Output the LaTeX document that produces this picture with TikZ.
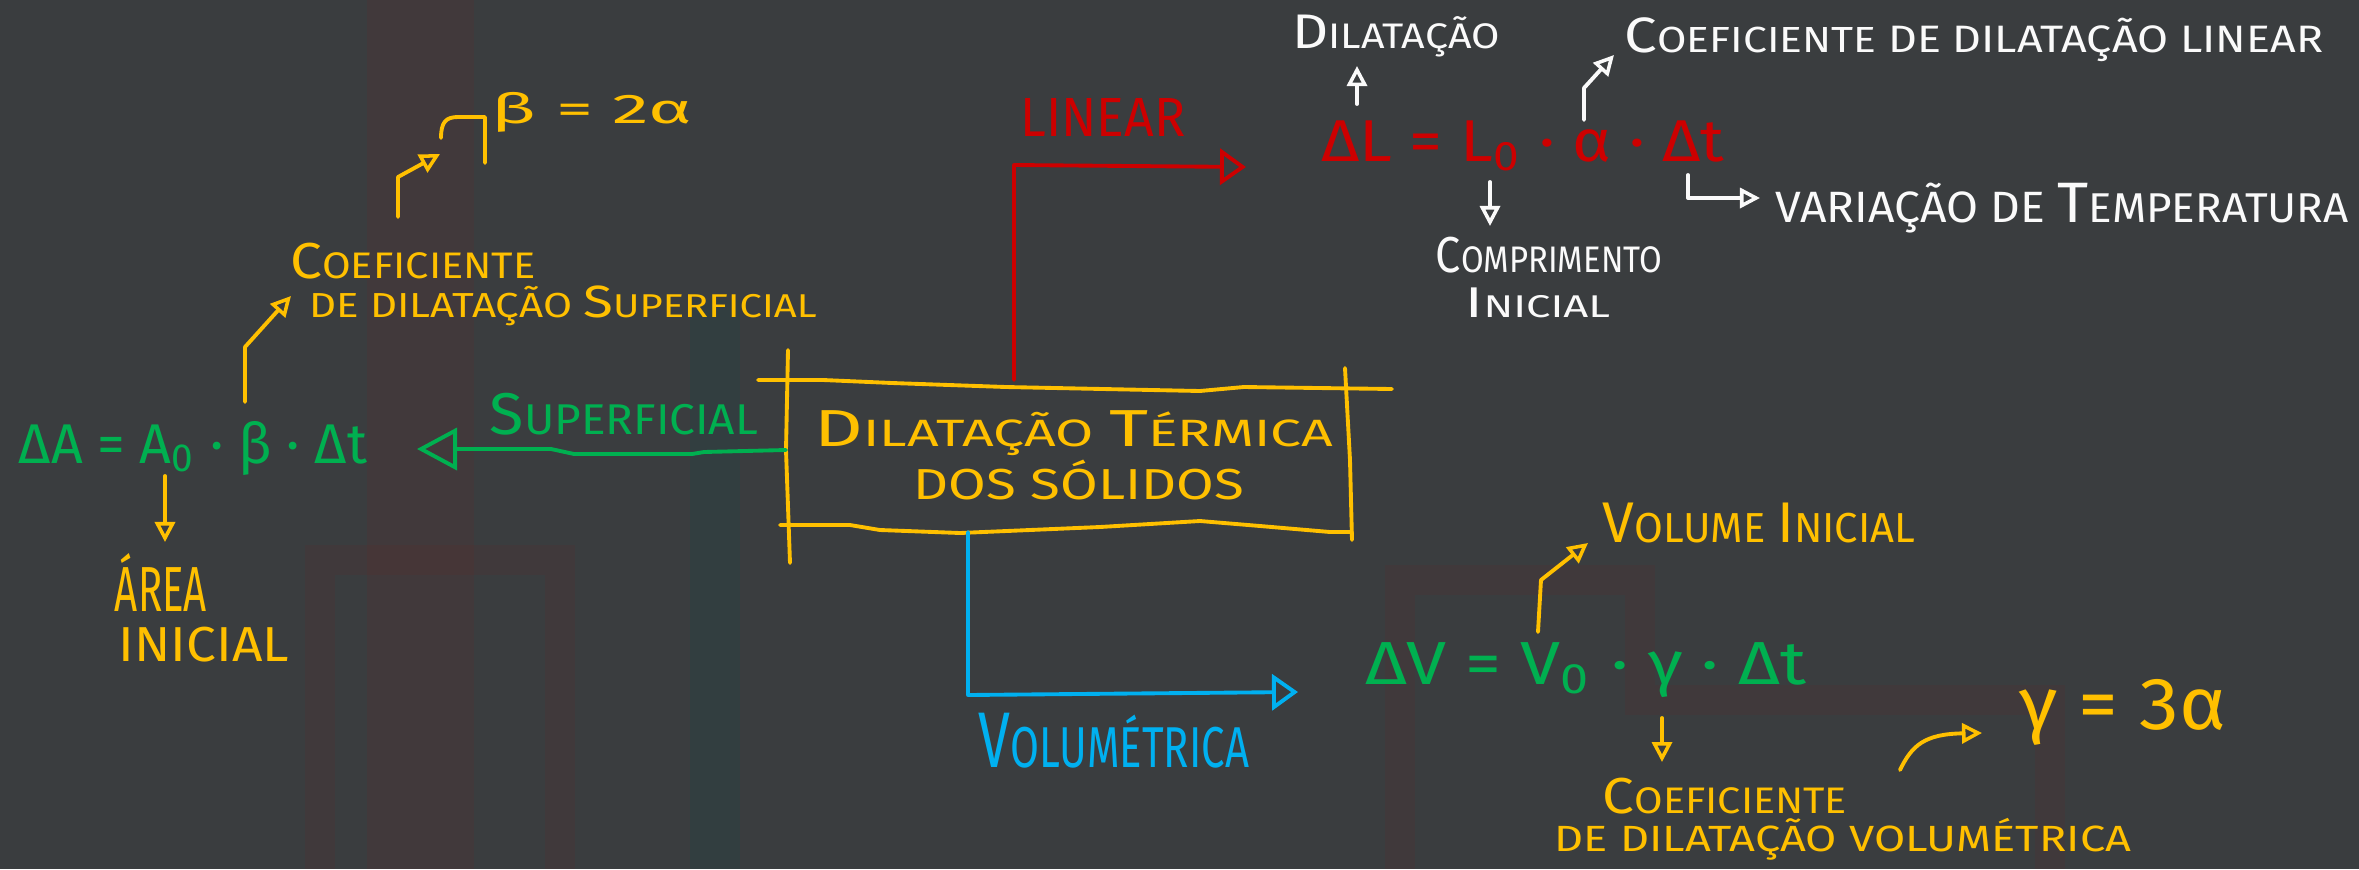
\documentclass[tikz,border=0pt]{standalone}
\usepackage{fontspec}
\setmainfont{Fira Sans}
\usepackage{graphicx}
\usetikzlibrary{arrows.meta}
\definecolor{bgc}{RGB}{58,61,63}
\definecolor{hy}{RGB}{255,192,0}
\definecolor{hg}{RGB}{0,176,80}
\definecolor{hr}{RGB}{205,0,0}
\definecolor{hb}{RGB}{0,176,240}
\definecolor{hwc}{RGB}{250,250,250}
\newcommand{\fitbox}[3]{\resizebox*{#1cm}{#2cm}{#3}}
\newcommand{\Cp}[2]{{\fontsize{13}{13}\selectfont #1}{\fontsize{9.5}{10}\selectfont #2}}
\tikzset{
  lbl/.style={inner sep=0pt, outer sep=0pt, anchor=center},
  hand/.style={line width=1.1pt, line cap=round, line join=round},
  tipS/.style={-{Triangle[open,length=2mm,width=2mm,line width=1pt]}},
  tipM/.style={-{Triangle[open,length=2.6mm,width=3.6mm,line width=1.1pt]}},
  tipL/.style={-{Triangle[open,length=4mm,width=4.2mm,line width=1.1pt]}},
}
\begin{document}
\begin{tikzpicture}[x=0.01cm,y=-0.01cm]
\useasboundingbox (0,0) rectangle (2359,869);
\fill[bgc] (0,0) rectangle (2359,869);
% faint background bands
\fill[red!70!black, opacity=0.06] (367,0) rectangle (474,869);
\fill[teal!60!black, opacity=0.12] (690,300) rectangle (740,869);
\draw[red!70!black, opacity=0.05, line width=0.3cm] (320,869) -- (320,560) -- (560,560) -- (560,869);
\draw[red!70!black, opacity=0.05, line width=0.3cm] (1400,869) -- (1400,580) -- (1640,580) -- (1640,700) -- (2050,700) -- (2050,869);

% main box
\node[lbl, text=hy] (t1) at (1074,433) {\fitbox{5.18}{0.45}{\Cp{D}{ILATAÇÃO} \Cp{T}{ÉRMICA}}};
\node[lbl, text=hy] (t2) at (1079,480) {\fitbox{3.30}{0.40}{DOS SÓLIDOS}};
\draw[hy, hand] (758,380) -- (823,380) -- (892,383) -- (1006,387) -- (1200,391) -- (1244,387) -- (1392,389);
\draw[hy, hand] (788,350) -- (786,450) -- (790,563);
\draw[hy, hand] (1345,368) -- (1350,460) -- (1352,540);
\draw[hy, hand] (780,525) -- (850,525) -- (880,530) -- (960,533) -- (1030,530) -- (1100,527) -- (1200,521) -- (1260,526) -- (1330,532) -- (1352,532);

% LINEAR branch
\coordinate (rS) at (1014,380);
\node[lbl, text=hr] (lin) at (1103,117) {\fitbox{1.65}{0.38}{LINEAR}};
\node[lbl, text=hr] (eqL) at (1523,146) {\fitbox{4.03}{0.50}{ΔL = L\textsubscript{0} · α · Δt}};
\coordinate (rE) at (1246,167);
\draw[hr, hand, tipM] (rS) -- (1014,165) -- (rE);

\node[lbl, text=hwc] (dil) at (1396,36) {\fitbox{2.07}{0.42}{\Cp{D}{ILATAÇÃO}}};
\node[lbl, text=hwc] (cl) at (1974,40) {\fitbox{6.98}{0.44}{\Cp{C}{OEFICIENTE} DE DILATAÇÃO LINEAR}};
\node[lbl, text=hwc] (vt) at (2062,208) {\fitbox{5.73}{0.50}{VARIAÇÃO DE \Cp{T}{EMPERATURA}}};
\node[lbl, text=hwc] (cp) at (1549,255) {\fitbox{2.26}{0.36}{\Cp{C}{OMPRIMENTO}}};
\node[lbl, text=hwc] (ci) at (1538,303) {\fitbox{1.44}{0.30}{\Cp{I}{NICIAL}}};
\coordinate (wa1) at (1357,104);
\coordinate (wa2) at (1584,120);
\coordinate (wa3) at (1490,182);
\coordinate (wa4) at (1688,175);
\draw[hwc, hand, tipS] (wa1) -- (1357,66);
\draw[hwc, hand, tipS] (wa2) -- (1584,88) -- (1614,55);
\draw[hwc, hand, tipS] (wa3) -- (1490,226);
\draw[hwc, hand, tipS] (wa4) -- (1688,198) -- (1760,198);

% SUPERFICIAL branch
\node[lbl, text=hg] (sup) at (624,414) {\fitbox{2.68}{0.42}{\Cp{S}{UPERFICIAL}}};
\node[lbl, text=hg] (eqA) at (193,448) {\fitbox{3.48}{0.54}{ΔA = A\textsubscript{0} · β · Δt}};
\coordinate (gS) at (786,450);
\draw[hg, hand, tipL] (gS) -- (704,452) -- (692,454) -- (574,454) -- (551,449) -- (417,449);

\node[lbl, text=hy] (b2a) at (592,112) {\fitbox{2.00}{0.40}{β = 2α}};
\node[lbl, text=hy] (cs1) at (413,261) {\fitbox{2.45}{0.36}{\Cp{C}{OEFICIENTE}}};
\node[lbl, text=hy] (cs2) at (563,306) {\fitbox{5.07}{0.40}{DE DILATAÇÃO \Cp{S}{UPERFICIAL}}};
\node[lbl, text=hy] (ar) at (161,582) {\fitbox{0.92}{0.58}{ÁREA}};
\node[lbl, text=hy] (ai) at (204,645) {\fitbox{1.70}{0.35}{INICIAL}};
\coordinate (ya1) at (165,476);
\coordinate (ya2) at (245,402);
\coordinate (ya3) at (398,217);
\coordinate (bstem) at (485,117);
\draw[hy, hand, tipS] (ya1) -- (165,542);
\draw[hy, hand, tipS] (ya2) -- (245,347) -- (291,296);
\draw[hy, hand, tipS] (ya3) -- (398,177) -- (440,154);
\draw[hy, hand] (441,138) .. controls (441,122) and (446,117) .. (458,117) -- (bstem) -- (485,163);

% VOLUMETRICA branch
\coordinate (bS) at (968,532);
\node[lbl, text=hb] (vol) at (1114,741) {\fitbox{2.70}{0.55}{\Cp{V}{OLUMÉTRICA}}};
\node[lbl, text=hg] (eqV) at (1586,670) {\fitbox{4.40}{0.55}{ΔV = V\textsubscript{0} · γ · Δt}};
\draw[hb, hand, tipM] (bS) -- (968,695) -- (1298,692);

\node[lbl, text=hy] (vi) at (1759,523) {\fitbox{3.12}{0.40}{\Cp{V}{OLUME} \Cp{I}{NICIAL}}};
\node[lbl, text=hy] (cv1) at (1725,796) {\fitbox{2.44}{0.36}{\Cp{C}{OEFICIENTE}}};
\node[lbl, text=hy] (cv2) at (1843,839) {\fitbox{5.76}{0.42}{DE DILATAÇÃO VOLUMÉTRICA}};
\node[lbl, text=hy] (g3a) at (2123,712) {\fitbox{2.07}{0.66}{γ = 3α}};
\coordinate (yv1) at (1538,632);
\coordinate (yv2) at (1662,718);
\coordinate (yv3) at (1900,770);
\draw[hy, hand, tipS] (yv1) -- (1541,580) -- (1588,543);
\draw[hy, hand, tipS] (yv2) -- (1662,762);
\draw[hy, hand, tipS] (yv3) .. controls (1912,745) and (1925,734) .. (1982,733);
\end{tikzpicture}
\end{document}
